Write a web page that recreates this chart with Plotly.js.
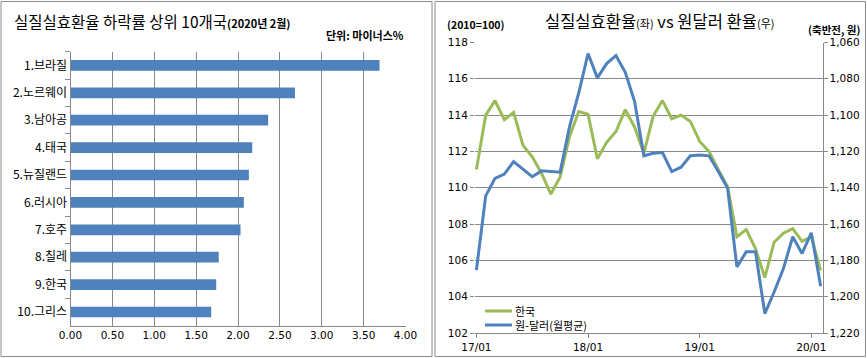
<!DOCTYPE html>
<html><head><meta charset="utf-8">
<script src="https://cdn.plot.ly/plotly-3.0.1.min.js"></script>
<style>html,body{margin:0;padding:0;background:#fff}#c{width:867px;height:358px}</style>
</head><body><div id="c"></div>
<script>
// Left chart data
const countries = ['1.브라질','2.노르웨이','3.남아공','4.태국','5.뉴질랜드','6.러시아','7.호주','8.칠레','9.한국','10.그리스'];
const declineRate = [3.69, 2.68, 2.36, 2.17, 2.13, 2.07, 2.03, 1.77, 1.74, 1.68];
const xTicks = [0,0.5,1,1.5,2,2.5,3,3.5,4];

// Right chart data (monthly 17/01 .. 20/02)
const months = ['17/01','17/02','17/03','17/04','17/05','17/06','17/07','17/08','17/09','17/10','17/11','17/12',
  '18/01','18/02','18/03','18/04','18/05','18/06','18/07','18/08','18/09','18/10','18/11','18/12',
  '19/01','19/02','19/03','19/04','19/05','19/06','19/07','19/08','19/09','19/10','19/11','19/12',
  '20/01','20/02'];
const koreaREER = [111.0,114.0,114.8,113.75,114.15,112.35,111.7,110.8,109.65,110.6,112.8,114.2,
  114.05,111.6,112.5,113.1,114.3,113.35,111.9,113.95,114.8,113.8,114.0,113.65,
  112.55,112.0,111.0,110.05,107.3,107.7,106.65,105.05,107.0,107.5,107.75,107.05,
  107.3,105.45];
const wonDollar = [1185.4,1144.5,1134.8,1132.5,1125.6,1129.8,1133.9,1130.7,1131.1,1131.4,1106.6,1087.8,
  1066.1,1079.5,1071.6,1067.2,1076.4,1092.4,1122.4,1121.0,1120.6,1131.1,1128.7,1122.4,
  1121.9,1122.4,1131.1,1140.3,1183.6,1175.3,1175.3,1209.3,1197.4,1184.5,1167.0,1176.2,
  1164.8,1194.3];
const seriesNames = ['한국','원-달러(월평균)'];
const xLabelMonths = ['17/01','18/01','19/01','20/01'];
const leftTicks = [102,104,106,108,110,112,114,116,118];
const rightTicks = [1060,1080,1100,1120,1140,1160,1180,1200,1220];

const W = 867, H = 358;
const px = v => v / W, py = v => 1 - v / H;
const KR = '"Noto Sans CJK KR", "Noto Sans", sans-serif';
const NUM = 'Tahoma, "DejaVu Sans", sans-serif';
const GREEN = '#9BBB59', BLUE = '#4F81BD', GRID = '#888888';

const traces = [
  {type:'bar', orientation:'h', x: declineRate, y: countries, xaxis:'x', yaxis:'y',
   marker:{color:BLUE}, showlegend:false},
  {type:'scatter', mode:'lines', x: months, y: koreaREER, xaxis:'x2', yaxis:'y2',
   name:seriesNames[0], line:{color:GREEN, width:3}, showlegend:false},
  {type:'scatter', mode:'lines', x: months, y: wonDollar, xaxis:'x2', yaxis:'y3',
   name:seriesNames[1], line:{color:BLUE, width:3}, showlegend:false}
];

const layout = {
  width: W, height: H,
  margin:{l:0,r:0,t:0,b:0},
  paper_bgcolor:'#fff', plot_bgcolor:'rgba(0,0,0,0)',
  font:{family: KR, size: 11, color:'#000'},
  bargap: 0.61,
  showlegend:false,
  xaxis:{domain:[px(70.5), px(405.5)], range:[0,4], tickvals:xTicks, tickformat:'.2f',
    showgrid:true, gridcolor:GRID, gridwidth:1, zeroline:false,
    showline:true, linecolor:GRID, ticks:'', ticklen:0, tickfont:{family:NUM, size:10.5}},
  yaxis:{domain:[py(325.7), py(51.7)], autorange:'reversed', type:'category',
    showline:true, linecolor:GRID, ticks:'outside', tickson:'boundaries', ticklen:5, tickcolor:GRID,
    tickfont:{family:KR, size:12}, showgrid:false, anchor:'x'},
  xaxis2:{domain:[px(475), px(822.5)], type:'category', range:[-0.15, 37.2],
    tickvals: xLabelMonths, ticktext: xLabelMonths, ticks:'outside', ticklen:4, tickcolor:GRID,
    showline:true, linecolor:GRID, showgrid:false, anchor:'y2',
    tickfont:{family:NUM, size:10.5}},
  yaxis2:{domain:[py(333), py(42.5)], range:[102,118], tickvals:leftTicks,
    showgrid:true, gridcolor:GRID, zeroline:false, showline:false,
    ticks:'outside', ticklen:4, tickcolor:GRID, anchor:'x2',
    tickfont:{family:NUM, size:10.5}},
  yaxis3:{overlaying:'y2', side:'right', range:[1220,1060], tickvals:rightTicks, tickformat:',d',
    showgrid:false, zeroline:false, showline:true, linecolor:GRID,
    ticks:'outside', ticklen:4, tickcolor:GRID, anchor:'x2',
    tickfont:{family:NUM, size:10.5}},
  shapes:[
    {type:'rect', xref:'paper', yref:'paper', x0:px(1), x1:px(432), y0:py(356.5), y1:py(1.5),
     line:{color:'#8c8c8c', width:1}},
    {type:'rect', xref:'paper', yref:'paper', x0:px(435), x1:px(865.5), y0:py(356.5), y1:py(1.5),
     line:{color:'#8c8c8c', width:1}},
    // legend samples
    {type:'line', xref:'paper', yref:'paper', x0:px(485), x1:px(512), y0:py(311), y1:py(311),
     line:{color:GREEN, width:3}},
    {type:'line', xref:'paper', yref:'paper', x0:px(485), x1:px(512), y0:py(325), y1:py(325),
     line:{color:BLUE, width:3}}
  ],
  annotations:[
    {xref:'paper', yref:'paper', x:px(12), y:py(21), xanchor:'left', yanchor:'middle', showarrow:false,
     text:'실질실효환율 하락률 상위 10개국<span style="font-size:11px;font-weight:bold">(2020년 2월)</span>',
     font:{family:KR, size:15.5}},
    {xref:'paper', yref:'paper', x:px(406), y:py(35), xanchor:'right', yanchor:'middle', showarrow:false,
     text:'<b>단위: 마이너스%</b>', font:{family:KR, size:11}},
    {xref:'paper', yref:'paper', x:px(660), y:py(21), xanchor:'center', yanchor:'middle', showarrow:false,
     text:'실질실효환율<span style="font-size:11px">(좌)</span> vs 원달러 환율<span style="font-size:11px">(우)</span>',
     font:{family:KR, size:16.5}},
    {xref:'paper', yref:'paper', x:px(445), y:py(25), xanchor:'left', yanchor:'middle', showarrow:false,
     text:'<b>(2010=100)</b>', font:{family:KR, size:10.5}},
    {xref:'paper', yref:'paper', x:px(862), y:py(29), xanchor:'right', yanchor:'middle', showarrow:false,
     text:'<b>(축반전, 원)</b>', font:{family:KR, size:10.5}},
    {xref:'paper', yref:'paper', x:px(513), y:py(318), xanchor:'left', yanchor:'middle', align:'left',
     showarrow:false, text:seriesNames.join('<br>'), font:{family:KR, size:11}}
  ]
};

Plotly.newPlot('c', traces, layout, {displayModeBar:false, staticPlot:true});
</script></body></html>
